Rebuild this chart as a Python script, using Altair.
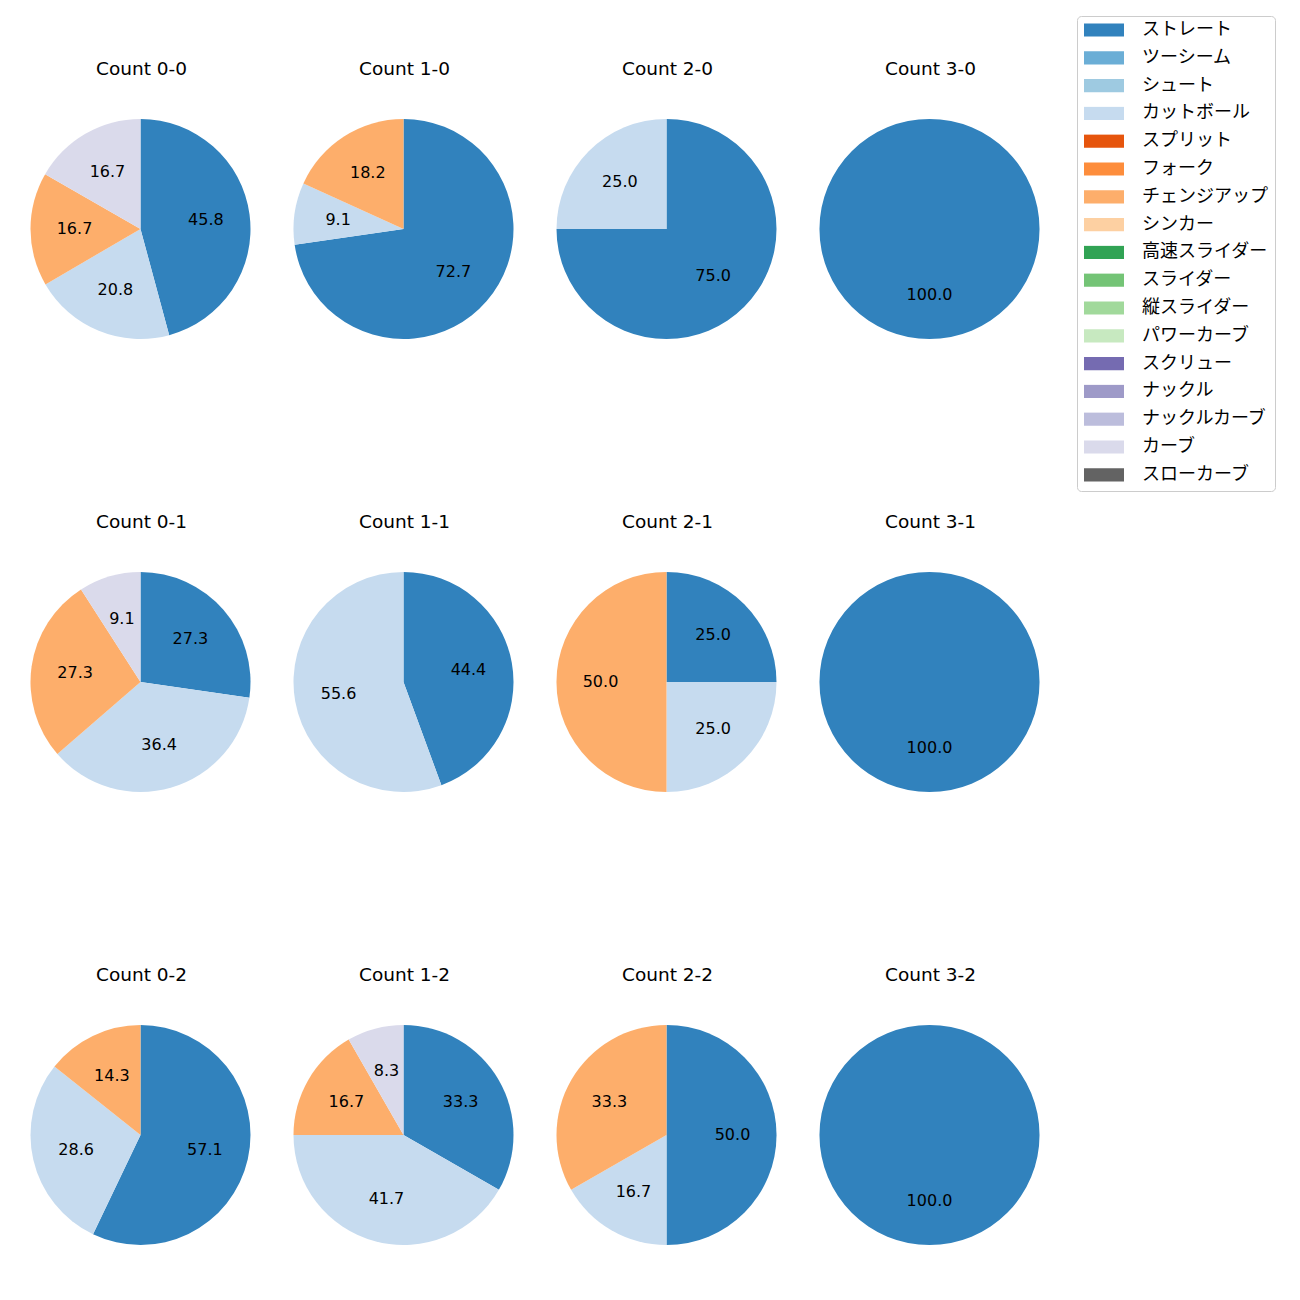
import altair as alt
import pandas as pd

pitch_types = ["ストレート", "ツーシーム", "シュート", "カットボール", "スプリット", "フォーク",
               "チェンジアップ", "シンカー", "高速スライダー", "スライダー", "縦スライダー",
               "パワーカーブ", "スクリュー", "ナックル", "ナックルカーブ", "カーブ", "スローカーブ"]
colors = ["#3182bd", "#6baed6", "#9ecae1", "#c6dbef", "#e6550d", "#fd8d3c", "#fdae6b",
          "#fdd0a2", "#31a354", "#74c476", "#a1d99b", "#c7e9c0", "#756bb1", "#9e9ac8",
          "#bcbddc", "#dadaeb", "#636363"]

counts = ["0-0", "1-0", "2-0", "3-0", "0-1", "1-1", "2-1", "3-1", "0-2", "1-2", "2-2", "3-2"]
straight = [45.8, 72.7, 75.0, 100.0, 27.3, 44.4, 25.0, 100.0, 57.1, 33.3, 50.0, 100.0]
cutter = [20.8, 9.1, 25.0, 0, 36.4, 55.6, 25.0, 0, 28.6, 41.7, 16.7, 0]
changeup = [16.7, 18.2, 0, 0, 27.3, 0, 50.0, 0, 14.3, 16.7, 33.3, 0]
curve = [16.7, 0, 0, 0, 9.1, 0, 0, 0, 0, 8.3, 0, 0]

series = {"ストレート": straight, "カットボール": cutter, "チェンジアップ": changeup, "カーブ": curve}

LATIN = "DejaVu Sans"
CJK = "Noto Sans CJK JP"
W = 263
H = 452.5
CX = 132.5
CY = 221
R = 110

rows = []
for i, c in enumerate(counts):
    for name, vals in series.items():
        if vals[i] > 0:
            rows.append({"count": c, "type": name, "idx": pitch_types.index(name), "pct": vals[i]})
df = pd.DataFrame(rows)

color_scale = alt.Scale(domain=pitch_types, range=colors)
legend = alt.Legend(
    title=None, orient="none", legendX=1069, legendY=8,
    symbolType="M-1,-0.33H1V0.33H-1Z", symbolSize=1600, clipHeight=14,
    symbolStrokeWidth=0, labelFontSize=18, labelFont=CJK, labelOffset=18,
    rowPadding=9.8, padding=7, strokeColor="#cccccc", cornerRadius=4,
    fillColor="white", labelColor="black",
)


def panel(c):
    d = df[df["count"] == c]
    base = alt.Chart(d)
    arcs = base.mark_arc(outerRadius=R, stroke=None).encode(
        theta=alt.Theta("pct:Q", stack=True),
        color=alt.Color("type:N", scale=color_scale, legend=legend),
        order=alt.Order("idx:Q"),
        x=alt.value(CX), y=alt.value(CY),
    )
    labels = base.mark_text(radius=0.6 * R, fontSize=16, font=LATIN, color="black").encode(
        theta=alt.Theta("pct:Q", stack=True),
        order=alt.Order("idx:Q"),
        text=alt.Text("pct:Q", format=".1f"),
        x=alt.value(CX), y=alt.value(CY),
    )
    title = alt.Chart(pd.DataFrame({"t": [f"Count {c}"]})).mark_text(
        fontSize=18.5, font=LATIN, color="black", baseline="middle"
    ).encode(text="t:N", x=alt.value(CX + 1), y=alt.value(61))
    return alt.layer(arcs, labels, title).properties(width=W, height=H)


grid = alt.vconcat(
    *[alt.hconcat(*[panel(counts[r * 4 + k]) for k in range(4)], spacing=0) for r in range(3)],
    spacing=0,
).properties(padding=0).configure_view(stroke=None)

grid.save("out.html", embed_options={"renderer": "svg", "actions": False})
